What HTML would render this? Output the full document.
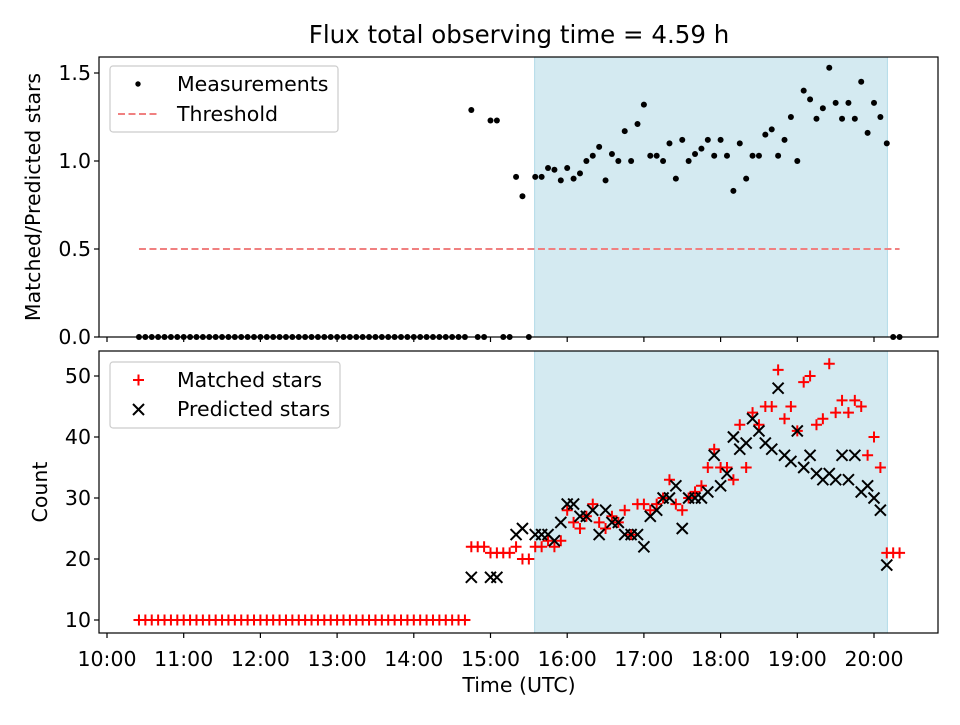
<!DOCTYPE html>
<html><head><meta charset="utf-8"><style>
body{margin:0;background:#fff;}
svg text{font-family:"DejaVu Sans","Liberation Sans",sans-serif;fill:#000;}
</style></head><body>
<svg id="c" width="960" height="720" xmlns="http://www.w3.org/2000/svg"></svg>
<script>
// times in minutes after 10:00
const times = [];
for (let m = 25; m <= 620; m += 5) times.push(m);
const ratio = [
 0,0,0,0,0,0,0,0,0,0,0,0,0,0,0,0,0,0,0,0,0,0,0,0,0,0,0,0,0,0,0,0,0,0,0,0,0,0,0,0,0,0,0,0,0,0,0,0,0,0,0,0,
 1.29,0,0,1.23,1.23,0,0,0.91,0.80,0,
 0.91,0.91,0.96,0.95,0.89,0.96,0.90,0.93,1.00,1.03,1.08,0.89,1.04,1.00,1.17,1.00,1.21,1.32,1.03,1.03,
 1.00,1.10,0.90,1.12,1.00,1.04,1.07,1.12,1.03,1.12,1.03,0.83,1.10,0.90,1.03,1.03,1.15,1.18,1.03,1.12,
 1.25,1.00,1.40,1.35,1.24,1.30,1.53,1.33,1.24,1.33,1.24,1.45,1.16,1.33,1.25,1.10,
 0,0];
const matched = [
 10,10,10,10,10,10,10,10,10,10,10,10,10,10,10,10,10,10,10,10,10,10,10,10,10,10,10,10,10,10,10,10,10,10,10,10,10,10,10,10,10,10,10,10,10,10,10,10,10,10,10,10,
 22,22,22,21,21,21,21,22,20,20,
 22,22,23,22,23,28,26,25,27,29,26,25,27,26,28,24,29,29,28,29,
 30,33,29,28,30,31,32,35,38,35,35,33,42,35,44,42,45,45,51,43,
 45,41,49,50,42,43,52,44,46,44,46,45,37,40,35,21,
 21,21];
const predicted = [
 null,null,null,null,null,null,null,null,null,null,null,null,null,null,null,null,null,null,null,null,null,null,null,null,null,null,null,null,null,null,null,null,null,null,null,null,null,null,null,null,null,null,null,null,null,null,null,null,null,null,null,null,
 17,null,null,17,17,null,null,24,25,null,
 24,24,24,23,26,29,29,27,27,28,24,28,26,26,24,24,24,22,27,28,
 30,30,32,25,30,30,30,31,37,32,34,40,38,39,43,41,39,38,48,37,
 36,41,35,37,34,33,34,33,37,33,37,31,32,30,28,19,
 null,null];
const xTicks = ["10:00","11:00","12:00","13:00","14:00","15:00","16:00","17:00","18:00","19:00","20:00"];
const topTicks = [0, 0.5, 1.0, 1.5];
const botTicks = [10, 20, 30, 40, 50];
const shade = [334.5, 610.5];
const threshold = 0.5;

const NS = "http://www.w3.org/2000/svg";
const svg = document.getElementById('c');
function mk(tag, attrs, parent){const e=document.createElementNS(NS,tag);for(const k in attrs)e.setAttribute(k,attrs[k]);(parent||svg).appendChild(e);return e;}
const L=99,R=938;
const FS=20.5;
const X = m => 107 + m*(76.7/60);
const YT = v => 337 - v*176;
const YB = c => 620 - (c-10)*6.1;

let t=mk('text',{x:519,y:43,'font-size':24.5,'text-anchor':'middle'});t.textContent='Flux total observing time = 4.59 h';



function panel(top,bottom,name){
  const g=mk('g',{});
  
  
  const r=mk('rect',{x:X(shade[0]),y:top,width:X(shade[1])-X(shade[0]),height:bottom-top,fill:'#d4eaf1',stroke:'#b3dbe8','stroke-width':1},g);
  
  
  return g;
}
const gt=panel(57,337,'top-panel');
const gb=panel(351,633,'bottom-panel');

const th=mk('line',{x1:X(times[0]),x2:X(times[times.length-1]),y1:YT(threshold),y2:YT(threshold),stroke:'#f08080','stroke-width':2,'stroke-dasharray':'7,3.5'},gt);



times.forEach((m,i)=>{
  const c=mk('circle',{cx:X(m),cy:YT(ratio[i]),r:3,fill:'#000'},gt);
  
  
});
times.forEach((m,i)=>{
  const x=X(m),y=YB(matched[i]);
  const p=mk('path',{d:`M${x-5.5},${y}H${x+5.5}M${x},${y-5.5}V${y+5.5}`,stroke:'#f00','stroke-width':2,fill:'none'},gb);
  
  
});
times.forEach((m,i)=>{
  if(predicted[i]==null)return;
  const x=X(m),y=YB(predicted[i]);
  const p=mk('path',{d:`M${x-5.5},${y-5.5}L${x+5.5},${y+5.5}M${x-5.5},${y+5.5}L${x+5.5},${y-5.5}`,stroke:'#000','stroke-width':2,fill:'none'},gb);
  
  
});

[[57,337],[351,633]].forEach(([a,b],pi)=>{
  const f=mk('rect',{x:L,y:a,width:R-L,height:b-a,fill:'none',stroke:'#000','stroke-width':1.2});
  
  
  xTicks.forEach((lab,i)=>{
    const x=X(i*60);
    mk('line',{x1:x,x2:x,y1:b,y2:b+5,stroke:'#000','stroke-width':1.2});
    if(pi){const tt=mk('text',{x:x,y:b+33,'font-size':FS,'text-anchor':'middle'});tt.textContent=lab;
      
      }
  });
});
topTicks.forEach(v=>{
  const y=YT(v);mk('line',{x1:L-5,x2:L,y1:y,y2:y,stroke:'#000','stroke-width':1.2});
  const tt=mk('text',{x:L-8,y:y+7,'font-size':FS,'text-anchor':'end'});tt.textContent=v.toFixed(1);
  
  
});
botTicks.forEach(v=>{
  const y=YB(v);mk('line',{x1:L-5,x2:L,y1:y,y2:y,stroke:'#000','stroke-width':1.2});
  const tt=mk('text',{x:L-8,y:y+7,'font-size':FS,'text-anchor':'end'});tt.textContent=v;
  
  
});
let yl=mk('text',{x:0,y:0,'font-size':FS,'text-anchor':'middle',transform:'translate(40,197) rotate(-90)'});yl.textContent='Matched/Predicted stars';


let yl2=mk('text',{x:0,y:0,'font-size':FS,'text-anchor':'middle',transform:'translate(47,492) rotate(-90)'});yl2.textContent='Count';


let xl=mk('text',{x:519,y:692,'font-size':FS,'text-anchor':'middle'});xl.textContent='Time (UTC)';



function legend(x,y,w,h,name){const r=mk('rect',{x,y,width:w,height:h,rx:3,fill:'#fff','fill-opacity':0.8,stroke:'#ccc','stroke-width':1.2});
  
  }
legend(110,66,228,66,'top-legend');
mk('circle',{cx:138,cy:84,r:2.7,fill:'#000'});
let l1=mk('text',{x:177,y:91,'font-size':FS});l1.textContent='Measurements';


mk('line',{x1:118,x2:158,y1:114,y2:114,stroke:'#f08080','stroke-width':2,'stroke-dasharray':'7,3.5'});
let l2=mk('text',{x:177,y:121,'font-size':FS});l2.textContent='Threshold';


legend(110,362,230,66,'bottom-legend');
mk('path',{d:'M133,380H144M138.5,374.5V385.5',stroke:'#f00','stroke-width':2});
let l3=mk('text',{x:177,y:387,'font-size':FS});l3.textContent='Matched stars';


mk('path',{d:'M133,404L144,415M133,415L144,404',stroke:'#000','stroke-width':2});
let l4=mk('text',{x:177,y:416,'font-size':FS});l4.textContent='Predicted stars';


</script>
</body></html>
